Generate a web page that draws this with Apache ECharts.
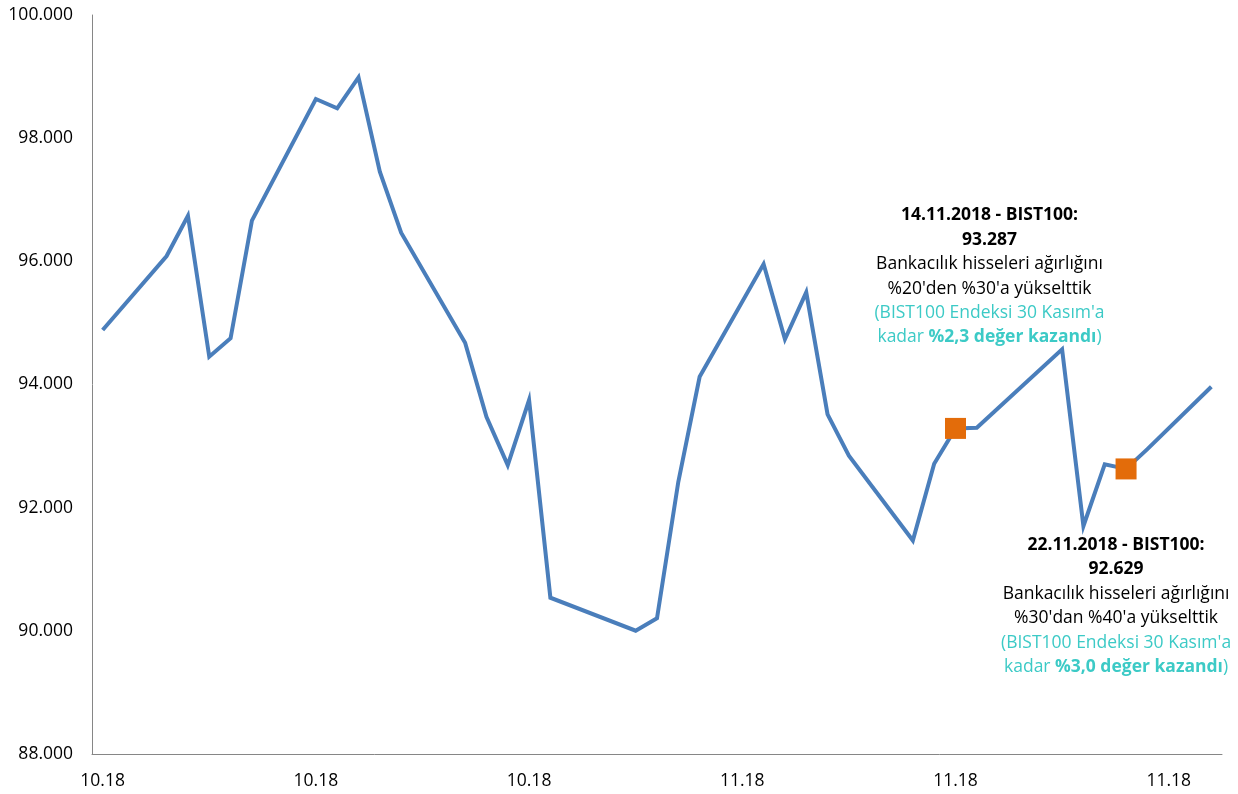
<!DOCTYPE html>
<html><head><meta charset="utf-8">
<script src="https://cdn.jsdelivr.net/npm/echarts@6/dist/echarts.min.js"></script>
<style>html,body{margin:0;padding:0;background:#fff}#c{width:1238px;height:794px}</style>
</head><body><div id="c"></div>
<script>
// ---- data ----
const tradingDates = [
  '2018-10-05','2018-10-08','2018-10-09','2018-10-10','2018-10-11','2018-10-12',
  '2018-10-15','2018-10-16','2018-10-17','2018-10-18','2018-10-19',
  '2018-10-22','2018-10-23','2018-10-24','2018-10-25','2018-10-26',
  '2018-10-30','2018-10-31','2018-11-01','2018-11-02',
  '2018-11-05','2018-11-06','2018-11-07','2018-11-08','2018-11-09',
  '2018-11-12','2018-11-13','2018-11-14','2018-11-15',
  '2018-11-19','2018-11-20','2018-11-21','2018-11-22','2018-11-23',
  '2018-11-26'
];
const closeValues = [
  94885, 96086, 96741, 94451, 94750, 96660,
  98636, 98485, 98988, 97455, 96465,
  94679, 93477, 92692, 93748, 90538,
  90002, 90203, 92421, 94126,
  95956, 94734, 95497, 93516, 92843,
  91466, 92714, 93287, 93298,
  94571, 91702, 92704, 92629, 92950,
  93964
];
const axisStartDate = '2018-10-05';
const axisEndDate = '2018-11-26';
const markerDates = ['2018-11-14', '2018-11-22'];
const markerValues = [93287, 92629];
const markerTitles = ['14.11.2018 - BIST100:', '22.11.2018 - BIST100:'];
const markerLine1 = ['Bankacılık hisseleri ağırlığını', 'Bankacılık hisseleri ağırlığını'];
const markerLine2 = ["%20'den %30'a yükselttik", "%30'dan %40'a yükselttik"];
const markerLine3 = ["(BIST100 Endeksi 30 Kasım'a", "(BIST100 Endeksi 30 Kasım'a"];
const markerGain = ['%2,3 değer kazandı', '%3,0 değer kazandı'];
const yMin = 88000, yMax = 100000, yStep = 2000;

// ---- build calendar categories ----
const categories = [];
{
  let d = new Date(axisStartDate + 'T00:00:00Z');
  const end = new Date(axisEndDate + 'T00:00:00Z');
  while (d <= end) {
    categories.push(d.toISOString().slice(0, 10));
    d = new Date(d.getTime() + 86400000);
  }
}
const valueByDate = {};
tradingDates.forEach((dt, i) => { valueByDate[dt] = closeValues[i]; });
const lineData = categories.map(c => (c in valueByDate ? valueByDate[c] : null));

const fmtNum = v => (v / 1000).toFixed(3);
const FONT = 'Open Sans';
const FS = 17.5;
const LH = 24.4;
const teal = '#3CCAC6';

const markerData = markerDates.map((d, i) => ({
  value: [d, markerValues[i]],
  idx: i
}));
const labelOffsets = [[34, -152], [-10, 137]];

const chart = echarts.init(document.getElementById('c'));
chart.setOption({
  animation: false,
  backgroundColor: '#fff',
  grid: { left: 92, right: 16, top: 15, bottom: 40 },
  xAxis: {
    type: 'category',
    data: categories,
    boundaryGap: true,
    axisLine: { lineStyle: { color: '#868686', width: 1 } },
    axisTick: { show: false },
    axisLabel: {
      interval: 9,
      margin: 18,
      color: '#000',
      fontFamily: FONT,
      fontSize: FS,
      formatter: v => v.slice(5, 7) + '.' + v.slice(2, 4)
    },
    splitLine: { show: false }
  },
  yAxis: {
    type: 'value',
    min: yMin, max: yMax, interval: yStep,
    axisLine: { show: true, lineStyle: { color: '#868686', width: 1 } },
    axisTick: { show: false },
    splitLine: { show: false },
    axisLabel: {
      margin: 19,
      color: '#000',
      fontFamily: FONT,
      fontSize: FS,
      formatter: fmtNum
    }
  },
  series: [
    {
      type: 'line',
      data: lineData,
      connectNulls: true,
      symbol: 'none',
      lineStyle: { color: '#4A7EBB', width: 4, join: 'miter' },
      z: 2
    },
    {
      type: 'scatter',
      data: markerData.map((m, i) => ({
        value: m.value,
        label: {
          show: true,
          position: 'inside',
          offset: labelOffsets[i],
          align: 'center',
          verticalAlign: 'middle',
          formatter: () =>
            '{b|' + markerTitles[i] + '}\n' +
            '{b|' + fmtNum(markerValues[i]) + '}\n' +
            '{n|' + markerLine1[i] + '}\n' +
            '{n|' + markerLine2[i] + '}\n' +
            '{t|' + markerLine3[i] + '}\n' +
            '{t|kadar }{tb|' + markerGain[i] + '}{t|)}',
          rich: {
            b: { fontFamily: FONT, fontSize: FS, fontWeight: 'bold', color: '#000', lineHeight: LH, align: 'center' },
            n: { fontFamily: FONT, fontSize: FS, color: '#000', lineHeight: LH, align: 'center' },
            t: { fontFamily: FONT, fontSize: FS, color: teal, lineHeight: LH, align: 'center' },
            tb: { fontFamily: FONT, fontSize: FS, fontWeight: 'bold', color: teal, lineHeight: LH, align: 'center' }
          }
        }
      })),
      symbol: 'rect',
      symbolSize: 21,
      itemStyle: { color: '#E36C0A', opacity: 1 },
      z: 3
    }
  ]
});
</script>
</body></html>
